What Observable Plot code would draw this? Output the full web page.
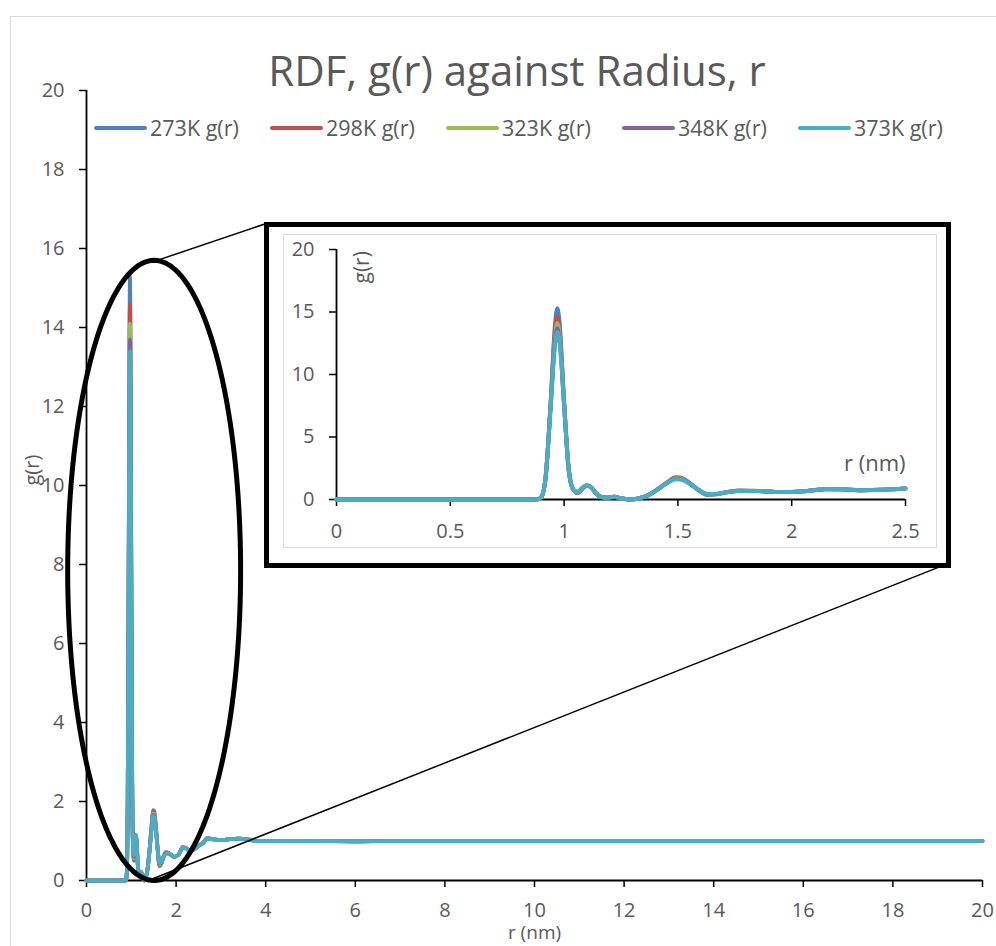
<!DOCTYPE html>
<html><head><meta charset="utf-8">
<script src="https://cdn.jsdelivr.net/npm/d3@7"></script>
<script src="https://cdn.jsdelivr.net/npm/@observablehq/plot@0.6"></script>
<style>
html,body{margin:0;padding:0;background:#fff;}
#wrap{position:relative;width:996px;height:946px;overflow:hidden;font-family:"Open Sans",sans-serif;color:#595959;}
#border{position:absolute;left:10px;top:16px;width:1100px;height:1100px;border:1.5px solid #d9d9d9;}
#main{position:absolute;left:0;top:0;}
#title{position:absolute;left:0;width:1034px;top:49px;text-align:center;font-size:42px;line-height:42px;white-space:nowrap;}
#legend{position:absolute;left:94px;top:115px;display:flex;}
.item{width:176px;display:flex;align-items:center;height:26px;}
.sw{width:53px;height:4px;border-radius:2px;margin-right:3px;}
.lt{font-size:21.5px;line-height:26px;white-space:nowrap;}
#inset{position:absolute;left:264px;top:222px;width:677px;height:336px;border:5px solid #000;background:#fff;}
#iframe{position:absolute;left:14px;top:7px;width:654px;height:314px;border:1.5px solid #d9d9d9;box-sizing:border-box;}
#iplot{position:absolute;left:0;top:0;}
</style>
</head><body>
<div id="wrap">
  <div id="border"></div>
  <div id="main"></div>
  <div id="title"></div>
  <div id="legend"></div>
  <div id="inset"><div id="iframe"></div><div id="iplot"></div></div>
</div>
<script>
// ---------- data ----------
const titleText = "RDF, g(r) against Radius, r";
const seriesNames = ["273K g(r)", "298K g(r)", "323K g(r)", "348K g(r)", "373K g(r)"];
const seriesColors = ["#4F81BD", "#C0504D", "#9BBB59", "#8064A2", "#4BACC6"];

const r = [0, 0.2, 0.4, 0.6, 0.8, 0.88, 0.90, 0.92, 0.94, 0.96, 0.97, 0.98, 1.00, 1.02, 1.04, 1.06, 1.08, 1.10, 1.12, 1.14, 1.16, 1.19, 1.22, 1.25, 1.29, 1.33, 1.37, 1.41, 1.45, 1.49, 1.51, 1.55, 1.59, 1.63, 1.67, 1.72, 1.77, 1.85, 1.95, 2.05, 2.15, 2.22, 2.30, 2.40, 2.50, 2.60, 2.70, 2.80, 3.00, 3.20, 3.40, 3.60, 3.80, 4.00, 5, 6, 7, 8, 10, 12, 14, 16, 18, 20];

const g273 = [0, 0, 0, 0, 0, 0, 0.2, 2.0, 7.5, 14.0, 15.3, 14.2, 7.8, 2.4, 0.8, 0.50, 0.85, 1.10, 0.95, 0.50, 0.22, 0.15, 0.22, 0.10, 0.0, 0.10, 0.35, 0.80, 1.35, 1.78, 1.76, 1.35, 0.75, 0.36, 0.42, 0.60, 0.72, 0.68, 0.60, 0.65, 0.85, 0.82, 0.75, 0.78, 0.88, 0.95, 1.08, 1.05, 1.02, 1.05, 1.06, 1.04, 1.00, 1.00, 1.00, 0.99, 1.00, 1.00, 1.00, 1.00, 1.00, 1.00, 1.00, 1.00];
const g298 = [0, 0, 0, 0, 0, 0, 0.2, 2.0, 7.4, 13.4, 14.6, 13.6, 7.7, 2.4, 0.8, 0.53, 0.87, 1.12, 0.95, 0.50, 0.22, 0.15, 0.22, 0.10, 0.0, 0.10, 0.35, 0.80, 1.33, 1.74, 1.72, 1.33, 0.76, 0.38, 0.43, 0.60, 0.71, 0.68, 0.60, 0.65, 0.84, 0.82, 0.75, 0.78, 0.88, 0.95, 1.07, 1.05, 1.02, 1.05, 1.06, 1.04, 1.00, 1.00, 1.00, 0.99, 1.00, 1.00, 1.00, 1.00, 1.00, 1.00, 1.00, 1.00];
const g323 = [0, 0, 0, 0, 0, 0, 0.2, 2.0, 7.3, 12.9, 14.1, 13.2, 7.6, 2.4, 0.8, 0.56, 0.90, 1.14, 0.95, 0.50, 0.22, 0.15, 0.22, 0.10, 0.0, 0.10, 0.35, 0.80, 1.31, 1.70, 1.68, 1.31, 0.77, 0.40, 0.44, 0.60, 0.70, 0.68, 0.60, 0.65, 0.84, 0.82, 0.75, 0.78, 0.88, 0.95, 1.07, 1.05, 1.02, 1.05, 1.06, 1.04, 1.00, 1.00, 1.00, 0.99, 1.00, 1.00, 1.00, 1.00, 1.00, 1.00, 1.00, 1.00];
const g348 = [0, 0, 0, 0, 0, 0, 0.2, 2.0, 7.2, 12.6, 13.7, 12.8, 7.6, 2.5, 0.8, 0.60, 0.92, 1.15, 0.95, 0.50, 0.22, 0.15, 0.22, 0.10, 0.0, 0.10, 0.35, 0.80, 1.29, 1.66, 1.64, 1.29, 0.78, 0.42, 0.45, 0.60, 0.69, 0.68, 0.60, 0.65, 0.83, 0.82, 0.75, 0.78, 0.88, 0.95, 1.06, 1.05, 1.02, 1.05, 1.06, 1.04, 1.00, 1.00, 1.00, 0.99, 1.00, 1.00, 1.00, 1.00, 1.00, 1.00, 1.00, 1.00];
const g373 = [0, 0, 0, 0, 0, 0, 0.2, 2.0, 7.1, 12.3, 13.4, 12.6, 7.5, 2.5, 0.8, 0.64, 0.94, 1.15, 0.95, 0.50, 0.22, 0.15, 0.22, 0.10, 0.0, 0.10, 0.35, 0.80, 1.27, 1.62, 1.60, 1.27, 0.79, 0.45, 0.46, 0.60, 0.68, 0.68, 0.60, 0.65, 0.83, 0.82, 0.75, 0.78, 0.88, 0.95, 1.06, 1.05, 1.02, 1.05, 1.06, 1.04, 1.00, 1.00, 1.00, 0.99, 1.00, 1.00, 1.00, 1.00, 1.00, 1.00, 1.00, 1.00];

const mainXTicks = [0, 2, 4, 6, 8, 10, 12, 14, 16, 18, 20];
const mainYTicks = [0, 2, 4, 6, 8, 10, 12, 14, 16, 18, 20];
const insetXTicks = [0, 0.5, 1, 1.5, 2, 2.5];
const insetYTicks = [0, 5, 10, 15, 20];
const xLabel = "r (nm)";
const yLabel = "g(r)";

// zoom annotation (data units of the main chart)
const zoomBounds = {r0: -0.42, r1: 3.44, g0: 0, g1: 15.7};
const connectors = [
  {ra: 1.58, ga: 15.7, rb: 3.98, gb: 16.62},
  {ra: 1.38, ga: 0.0, rb: 19.0, gb: 7.92}
];

// ---------- build ----------
const seriesValues = [g273, g298, g323, g348, g373];
const rows = [];
seriesNames.forEach((name, i) => r.forEach((rv, j) => rows.push({series: name, r: rv, g: seriesValues[i][j]})));
const insetRows = rows.filter(d => d.r <= 2.5);

const ecx = (zoomBounds.r0 + zoomBounds.r1) / 2, ecy = (zoomBounds.g0 + zoomBounds.g1) / 2;
const erx = (zoomBounds.r1 - zoomBounds.r0) / 2, ery = (zoomBounds.g1 - zoomBounds.g0) / 2;
const ellipse = d3.range(0, 360, 2).map(a => ({r: ecx + erx * Math.cos(a * Math.PI / 180), g: ecy + ery * Math.sin(a * Math.PI / 180)}));

const color = {domain: seriesNames, range: seriesColors};
const FONT = '"Open Sans", sans-serif';

const main = Plot.plot({
  width: 996, height: 946,
  marginLeft: 86, marginRight: 14, marginTop: 90, marginBottom: 66,
  x: {domain: [0, 20]},
  y: {domain: [0, 20]},
  color,
  style: {fontFamily: FONT, fontSize: "20px", background: "transparent", overflow: "visible", color: "#595959"},
  marks: [
    Plot.axisX({ticks: mainXTicks, tickSize: 7, tickPadding: 15, stroke: "#000", strokeWidth: 1.5, fill: "#595959", label: null, tickFormat: d => String(d)}),
    Plot.axisY({ticks: mainYTicks, tickSize: 7, tickPadding: 15, stroke: "#000", strokeWidth: 1.5, fill: "#595959", label: null, tickFormat: d => String(d)}),
    Plot.ruleX([0], {stroke: "#000", strokeWidth: 1.8}),
    Plot.ruleY([0], {stroke: "#000", strokeWidth: 1.8}),
    Plot.line(rows, {x: "r", y: "g", z: "series", stroke: "series", strokeWidth: 3.8, curve: "monotone-x", strokeLinecap: "round", strokeLinejoin: "round"}),
    Plot.line(ellipse, {x: "r", y: "g", curve: "linear-closed", stroke: "#000", strokeWidth: 5}),
    Plot.link(connectors, {x1: "ra", y1: "ga", x2: "rb", y2: "gb", stroke: "#000", strokeWidth: 1.5}),
    Plot.text([yLabel], {text: d => d, frameAnchor: "left", dx: -54, rotate: -90, fill: "#595959", fontSize: 20}),
    Plot.text([xLabel], {text: d => d, frameAnchor: "bottom", dy: 58, fill: "#595959", fontSize: 19})
  ]
});
document.getElementById("main").appendChild(main);

const inset = Plot.plot({
  width: 677, height: 336,
  marginLeft: 67, marginRight: 41, marginTop: 22, marginBottom: 64,
  x: {domain: [0, 2.5]},
  y: {domain: [0, 20]},
  color,
  style: {fontFamily: FONT, fontSize: "20px", background: "transparent", overflow: "visible", color: "#595959"},
  marks: [
    Plot.axisX({ticks: insetXTicks, tickSize: 7, tickPadding: 17, stroke: "#000", strokeWidth: 1.5, fill: "#595959", label: null, tickFormat: d => String(d)}),
    Plot.axisY({ticks: insetYTicks, tickSize: 7, tickPadding: 15, stroke: "#000", strokeWidth: 1.5, fill: "#595959", label: null, tickFormat: d => String(d)}),
    Plot.ruleX([0], {stroke: "#000", strokeWidth: 1.8}),
    Plot.ruleY([0], {stroke: "#000", strokeWidth: 1.8}),
    Plot.line(insetRows, {x: "r", y: "g", z: "series", stroke: "series", strokeWidth: 4, curve: "monotone-x", strokeLinecap: "round", strokeLinejoin: "round"}),
    Plot.text([yLabel], {text: d => d, frameAnchor: "top-left", dx: 18, dy: 34, rotate: -90, fill: "#595959", fontSize: 21}),
    Plot.text([xLabel], {text: d => d, frameAnchor: "bottom-right", textAnchor: "end", dy: -29, fill: "#595959", fontSize: 22})
  ]
});
document.getElementById("iplot").appendChild(inset);

document.getElementById("title").textContent = titleText;
const legend = document.getElementById("legend");
seriesNames.forEach((name, i) => {
  const it = document.createElement("div"); it.className = "item";
  const sw = document.createElement("div"); sw.className = "sw"; sw.style.background = seriesColors[i];
  const lt = document.createElement("span"); lt.className = "lt"; lt.textContent = name;
  it.appendChild(sw); it.appendChild(lt); legend.appendChild(it);
});
</script>
</body></html>
